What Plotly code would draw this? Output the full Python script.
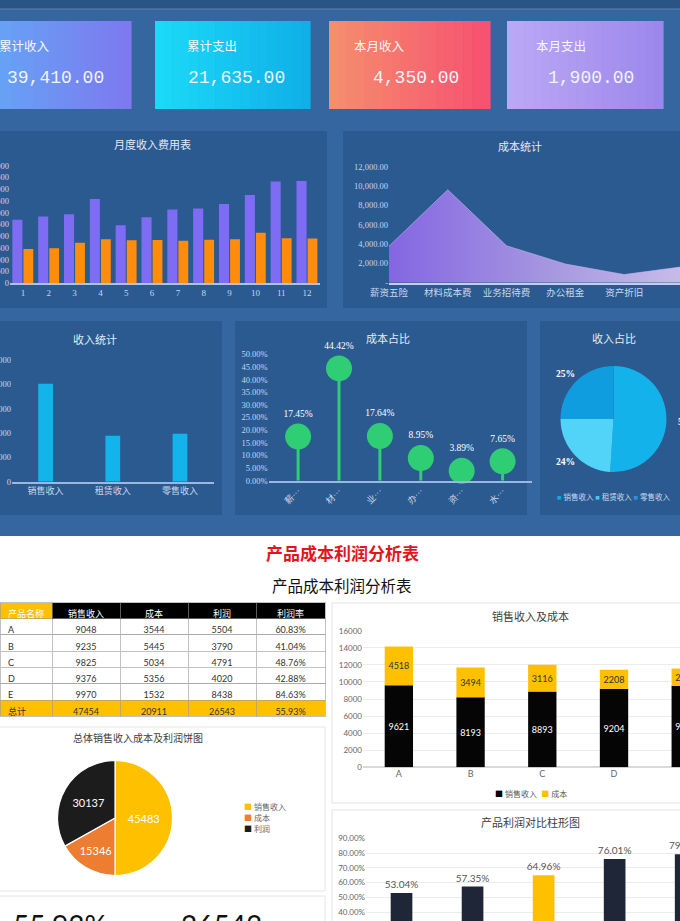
import plotly.graph_objects as go

W, H = 680, 921

def px(x):
    return x / W

def py(y):
    return 1 - y / H

def dx(a, b):
    return [max(0.0, a / W), min(1.0, b / W)]

def dy(t, b):
    return [max(0.0, 1 - b / H), min(1.0, 1 - t / H)]

# ---------------- data ----------------
kpi_labels = ["累计收入", "累计支出", "本月收入", "本月支出"]
kpi_values = [39410, 21635, 4350, 1900]

months = [str(i) for i in range(1, 13)]
month_income = [2700, 2830, 2930, 3580, 2460, 2800, 3130, 3180, 3370, 3750, 4330, 4350]
month_expense = [1450, 1485, 1720, 1870, 1820, 1830, 1800, 1840, 1870, 2140, 1910, 1900]

cost_items = ["薪资五险", "材料成本费", "业务招待费", "办公租金", "资产折旧", "水电费"]
cost_values = [3775, 9610, 3817, 1936, 842, 1655]
cost_ticks = [0, 2000, 4000, 6000, 8000, 10000, 12000]
cost_ticktext = ["-", "2,000.00", "4,000.00", "6,000.00", "8,000.00", "10,000.00", "12,000.00"]
cost_share = [0.1745, 0.4442, 0.1764, 0.0895, 0.0389, 0.0765]

income_types = ["销售收入", "租赁收入", "零售收入"]
income_values = [20100, 9450, 9860]

table_header = ["产品名称", "销售收入", "成本", "利润", "利润率"]
table_names = ["A", "B", "C", "D", "E", "总计"]
table_sales = [9048, 9235, 9825, 9376, 9970, 47454]
table_cost = [3544, 5445, 5034, 5356, 1532, 20911]
table_profit = [5504, 3790, 4791, 4020, 8438, 26543]
table_rate = ["60.83%", "41.04%", "48.76%", "42.88%", "84.63%", "55.93%"]

products = ["A", "B", "C", "D", "E"]
bar_sales = [9621, 8193, 8893, 9204, 9560]
bar_cost = [4518, 3494, 3116, 2208, 2000]
bar_series = ["销售收入", "成本"]

pie_labels = ["销售收入", "成本", "利润"]
pie_values = [45483, 15346, 30137]

profit_rate = [0.5304, 0.5735, 0.6496, 0.7601, 0.7920]

kpi_bottom = ["55.93%", "26543"]

# ---------------- styles ----------------
SERIF = "Liberation Serif, Noto Sans CJK SC"
MONO = "Liberation Mono, Noto Sans CJK SC"
SANS = "Lato, Noto Sans CJK SC"
LIGHT = "#c9d7eb"
TITLE_LIGHT = "#e2eaf6"
BG_BLUE = "#3566a0"
PANEL_BLUE = "#2b5a90"


def hex2rgb(h):
    h = h.lstrip("#")
    return tuple(int(h[i:i + 2], 16) for i in (0, 2, 4))


def lerp(c1, c2, t):
    a, b = hex2rgb(c1), hex2rgb(c2)
    return "rgb(%d,%d,%d)" % tuple(round(a[i] + (b[i] - a[i]) * t) for i in range(3))


shapes = []
annotations = []


def rect(x0, y0, x1, y1, fill, line=None, lw=0):
    shapes.append(dict(type="rect", xref="paper", yref="paper",
                       x0=px(x0), x1=px(x1), y0=py(y1), y1=py(y0),
                       fillcolor=fill, line=dict(width=lw, color=line or fill),
                       layer="below"))


def ann(text, x, y, size, color, family=SERIF, xanchor="center", yanchor="middle"):
    annotations.append(dict(text=text, x=px(x), y=py(y), xref="paper", yref="paper",
                            showarrow=False, xanchor=xanchor, yanchor=yanchor,
                            font=dict(size=size, color=color, family=family)))


# dark top section
rect(-2, -2, 682, 536, BG_BLUE)
rect(-2, -2, 682, 9, "#2a5485")
shapes.append(dict(type="line", xref="paper", yref="paper", x0=0, x1=1, y0=py(9), y1=py(9),
                   line=dict(color="#5a84b4", width=1), layer="below"))

# KPI cards with gradient strips
cards = [(-4, 131, "#66a2f4", "#7d7af0"), (155, 310, "#1bd9f8", "#0fb0e8"),
         (329, 490, "#f58d6e", "#f7526f"), (507, 663, "#bba8f4", "#9c88ec")]
N = 18
for (x0, x1, c1, c2) in cards:
    w = (x1 - x0) / N
    for i in range(N):
        rect(x0 + i * w, 21, x0 + (i + 1) * w + 0.6, 109, lerp(c1, c2, i / (N - 1)))

label_x = [-3, 185, 352, 534]
num_x = [55, 236.5, 415.5, 590.5]
for lbl, v, lx, nx in zip(kpi_labels, kpi_values, label_x, num_x):
    ann(lbl, lx, 45, 12.5, "#f4f7fc", family="Noto Sans CJK SC", xanchor="left")
    ann(f"{v:,.2f}", nx, 78, 18, "#eef3fb", family=MONO)

# panels
rect(-2, 131, 327, 308, PANEL_BLUE)
rect(343, 131, 682, 308, PANEL_BLUE)
rect(-2, 321, 222, 515, PANEL_BLUE)
rect(235, 321, 527, 515, PANEL_BLUE)
rect(540, 321, 682, 515, PANEL_BLUE)

# chart titles (dark section)
ann("月度收入费用表", 152, 145, 11, TITLE_LIGHT)
ann("成本统计", 520, 147, 11, TITLE_LIGHT)
ann("收入统计", 95, 340, 11, TITLE_LIGHT)
ann("成本占比", 388, 339, 11, TITLE_LIGHT)
ann("收入占比", 614, 339, 11, TITLE_LIGHT)

# white section panels
rect(332, 603, 686, 803, "white", "#e3e3e3", 1)
rect(332, 810, 686, 930, "white", "#e3e3e3", 1)
rect(-4, 727, 325, 891, "white", "#e6e6e6", 1)
rect(-4, 896, 325, 930, "white", "#e6e6e6", 1)

ann("<b>产品成本利润分析表</b>", 342, 552, 17, "#e3161e", family="Noto Sans CJK SC")
ann("产品成本利润分析表", 342, 585, 15.5, "#111111", family="Noto Sans CJK SC")
ann("销售收入及成本", 530, 616, 11, "#404040", family="Noto Sans CJK SC")
ann("总体销售收入成本及利润饼图", 138, 737, 10, "#404040", family="Noto Sans CJK SC")
ann("产品利润对比柱形图", 530, 822, 11, "#404040", family="Noto Sans CJK SC")

fig = go.Figure()

# 1. monthly income / expense
fig.add_trace(go.Bar(x=months, y=month_income, xaxis="x", yaxis="y", width=0.39, offset=-0.41,
                     marker=dict(color="#7f6cf4", line=dict(width=0)), showlegend=False))
fig.add_trace(go.Bar(x=months, y=month_expense, xaxis="x", yaxis="y", width=0.38, offset=0.02,
                     marker=dict(color="#ff8c0c", line=dict(width=0)), showlegend=False))

# 2. cost area
fig.add_trace(go.Scatter(x=cost_items, y=cost_values, xaxis="x2", yaxis="y2", mode="lines",
                         fill="tozeroy", line=dict(width=0.8, color="rgba(200,185,245,0.7)"),
                         fillgradient=dict(type="horizontal",
                                           colorscale=[[0, "#8466e2"], [0.5, "#a393e0"], [1, "#c8bce8"]]),
                         showlegend=False))

# 3. income bars
fig.add_trace(go.Bar(x=income_types, y=income_values, xaxis="x3", yaxis="y3", width=0.22,
                     marker=dict(color="#13b3eb", line=dict(width=0)), showlegend=False))

# 4. cost share lollipop
stem_x, stem_y = [], []
for c, v in zip(cost_items, cost_share):
    stem_x += [c, c, None]
    stem_y += [0, v, None]
fig.add_trace(go.Scatter(x=stem_x, y=stem_y, xaxis="x4", yaxis="y4", mode="lines",
                         line=dict(color="#2fce74", width=3), showlegend=False, cliponaxis=False))
fig.add_trace(go.Scatter(x=cost_items, y=cost_share, xaxis="x4", yaxis="y4", mode="markers+text",
                         marker=dict(size=26, color="#2fce74"),
                         text=[f"{v * 100:.2f}%" for v in cost_share], textposition="top center",
                         textfont=dict(size=9.5, color="white", family=SERIF),
                         showlegend=False, cliponaxis=False))

# 5. income share pie
inc_colors = ["#14b2ea", "#52d4f8", "#0f9de0"]
fig.add_trace(go.Pie(labels=income_types, values=income_values, sort=False, direction="clockwise",
                     rotation=0, textinfo="none", marker=dict(colors=inc_colors, line=dict(width=0)),
                     domain=dict(x=dx(560.5, 666.5), y=dy(366, 472)), showlegend=False))
tot = sum(income_values)
pct = [f"{v / tot * 100:.0f}%" for v in income_values]
ann(f"<b>{pct[0]}</b>", 676, 422, 9.5, "white", xanchor="left")
ann(f"<b>{pct[1]}</b>", 565, 462, 9.5, "white")
ann(f"<b>{pct[2]}</b>", 565, 374, 9.5, "white")
leg = " ".join(f"<span style='color:{c}'>■</span> {t}" for c, t in zip(["#10a8e8", "#40c8f0", "#2a92e0"], income_types))
ann(leg, 613, 497, 7.5, LIGHT)

# 6. table
row_fill = ["white"] * 5 + ["#ffc000"]
fig.add_trace(go.Table(
    domain=dict(x=dx(0, 325), y=dy(602.5, 735)),
    columnwidth=[52, 68, 68, 68, 69],
    header=dict(values=table_header, height=16,
                fill_color=["#ffc000", "#000000", "#000000", "#000000", "#000000"],
                font=dict(color="white", size=9, family=SANS),
                line=dict(color="#9a9a9a", width=0.6),
                align=["left", "center", "center", "center", "center"]),
    cells=dict(values=[table_names, table_sales, table_cost, table_profit, table_rate], height=16.3,
               fill_color=[row_fill] * 5,
               font=dict(color="#333333", size=9, family=SANS),
               line=dict(color="#9a9a9a", width=0.6),
               align=["left", "center", "center", "center", "center"])))

# 7. stacked bars sales / cost
fig.add_trace(go.Bar(x=products, y=bar_sales, xaxis="x5", yaxis="y5", width=0.395,
                     marker=dict(color="#050505", line=dict(width=0)), name=bar_series[0],
                     text=bar_sales, textposition="inside", insidetextanchor="middle",
                     textfont=dict(color="white", size=9, family=SANS), showlegend=False))
fig.add_trace(go.Bar(x=products, y=bar_cost, base=bar_sales, xaxis="x5", yaxis="y5", width=0.395,
                     marker=dict(color="#ffc000", line=dict(width=0)), name=bar_series[1],
                     text=bar_cost, textposition="inside", insidetextanchor="middle",
                     textfont=dict(color="#333333", size=9, family=SANS), showlegend=False))
leg2 = "  ".join(f"<span style='color:{c}'>■</span> {t}" for c, t in zip(["#000000", "#ffc000"], bar_series))
ann(leg2, 531, 794, 8, "#595959", family=SANS)

# 8. overall pie
fig.add_trace(go.Pie(labels=pie_labels, values=pie_values, sort=False, direction="clockwise",
                     rotation=0, texttemplate="%{value:d}", insidetextorientation="horizontal",
                     textfont=dict(color="white", size=11, family=SANS),
                     marker=dict(colors=["#ffc000", "#ed7d31", "#1c1c1c"], line=dict(color="white", width=1.2)),
                     domain=dict(x=dx(57.5, 172.5), y=dy(760.5, 875.5)), showlegend=False))
for i, (c, t) in enumerate(zip(["#ffc000", "#ed7d31", "#1c1c1c"], pie_labels)):
    ann(f"<span style='color:{c}'>■</span> {t}", 242, 806.5 + i * 11.2, 8, "#666666", family=SANS, xanchor="left")

# 9. profit rate bars
rate_colors = ["#1f2637", "#1f2637", "#ffc000", "#1f2637", "#1f2637"]
fig.add_trace(go.Bar(x=products, y=profit_rate, xaxis="x6", yaxis="y6", width=0.305,
                     marker=dict(color=rate_colors, line=dict(width=0)),
                     text=[f"{v * 100:.2f}%" for v in profit_rate], textposition="outside",
                     constraintext="none",
                     textfont=dict(color="#555555", size=10, family=SANS),
                     cliponaxis=False, showlegend=False))
# label of the last bar, whose centre lies just past the right edge of the picture
P6_LEFT, P6_STEP, P6_TOP, P6_PX_PER_UNIT = 366, 71, 838.3, 148
last = len(products) - 1
ann(f"{profit_rate[last] * 100:.2f}%", P6_LEFT + (last + 0.5) * P6_STEP,
    P6_TOP + (0.9 - profit_rate[last]) * P6_PX_PER_UNIT - 9, 10, "#555555", family=SANS)

# bottom KPI numbers
ann(kpi_bottom[0], 11, 906, 28, "#111111", family=SANS, xanchor="left", yanchor="top")
ann(kpi_bottom[1], 179, 906, 28, "#111111", family=SANS, xanchor="left", yanchor="top")

# ---------------- axes ----------------
dark_tick = dict(size=8.5, color=LIGHT, family=SERIF)
light_tick = dict(size=8, color="#666666", family=SANS)

layout_axes = dict(
    xaxis=dict(domain=dx(10, 320), anchor="y", type="category", showgrid=False, showline=True,
               linecolor="#aac3e6", linewidth=1.5, ticks="", tickfont=dict(size=9, color=LIGHT, family=SERIF)),
    yaxis=dict(domain=dy(165.7, 283), anchor="x", range=[0, 5000], dtick=500, tickformat=",",
               showgrid=False, zeroline=False, tickfont=dark_tick),
    xaxis2=dict(domain=dx(389, 680), anchor="y2", type="category", range=[0, 4.95], showgrid=False,
                showline=True, linecolor="#c0d0ec", linewidth=1.5, ticks="",
                tickfont=dict(size=9.5, color=LIGHT, family=SERIF)),
    yaxis2=dict(domain=dy(166.7, 282.7), anchor="x2", range=[0, 12000], tickvals=cost_ticks,
                ticktext=cost_ticktext, showgrid=False, zeroline=False, tickfont=dark_tick),
    xaxis3=dict(domain=dx(12, 213.6), anchor="y3", type="category", showgrid=False, showline=True,
                linecolor="#9bb8de", linewidth=1.5, ticks="", tickfont=dict(size=9, color=LIGHT, family=SERIF)),
    yaxis3=dict(domain=dy(360, 481.7), anchor="x3", range=[0, 25000], dtick=5000, tickformat=",",
                showgrid=False, zeroline=False, tickfont=dark_tick),
    xaxis4=dict(domain=dx(268.7, 532), anchor="y4", type="category", showgrid=False, showline=True,
                linecolor="#9bb8de", linewidth=1.5, ticks="", tickangle=-45,
                tickvals=cost_items, ticktext=[n[0] + "···" for n in cost_items],
                tickfont=dict(size=9, color=LIGHT, family=SERIF)),
    yaxis4=dict(domain=dy(354.3, 480.7), anchor="x4", range=[0, 0.5], dtick=0.05, tickformat=".2%",
                showgrid=False, zeroline=False, tickfont=dark_tick),
    xaxis5=dict(domain=dx(363, 680), anchor="y5", type="category", range=[-0.5, 3.92], showgrid=False,
                showline=False, ticks="", tickfont=dict(size=9, color="#666666", family=SANS)),
    yaxis5=dict(domain=dy(630.7, 767.3), anchor="x5", range=[0, 16000], dtick=2000, showgrid=True,
                gridcolor="#ececec", zeroline=True, zerolinecolor="#d9d9d9", tickformat="d",
                tickfont=light_tick),
    xaxis6=dict(domain=dx(P6_LEFT, 680), anchor="y6", type="category", range=[-0.5, 3.92], showgrid=False,
                showline=False, ticks="", showticklabels=False),
    yaxis6=dict(domain=[0, 1 - P6_TOP / H], anchor="x6", range=[0.341, 0.9], dtick=0.1,
                tickformat=".2%", showgrid=True, gridcolor="#ececec", zeroline=False,
                tickfont=light_tick),
)
for k in layout_axes:
    layout_axes[k]["automargin"] = False
    layout_axes[k]["fixedrange"] = True

fig.update_layout(
    width=W, height=H, margin=dict(l=0, r=0, t=0, b=0, pad=0),
    paper_bgcolor="white", plot_bgcolor="rgba(0,0,0,0)",
    showlegend=False, barmode="overlay",
    shapes=shapes, annotations=annotations,
    font=dict(family=SANS),
    **layout_axes,
)

fig.write_html("out.html", config={"displayModeBar": False},
               post_script="document.body.style.margin='0';document.body.style.overflow='hidden';")
